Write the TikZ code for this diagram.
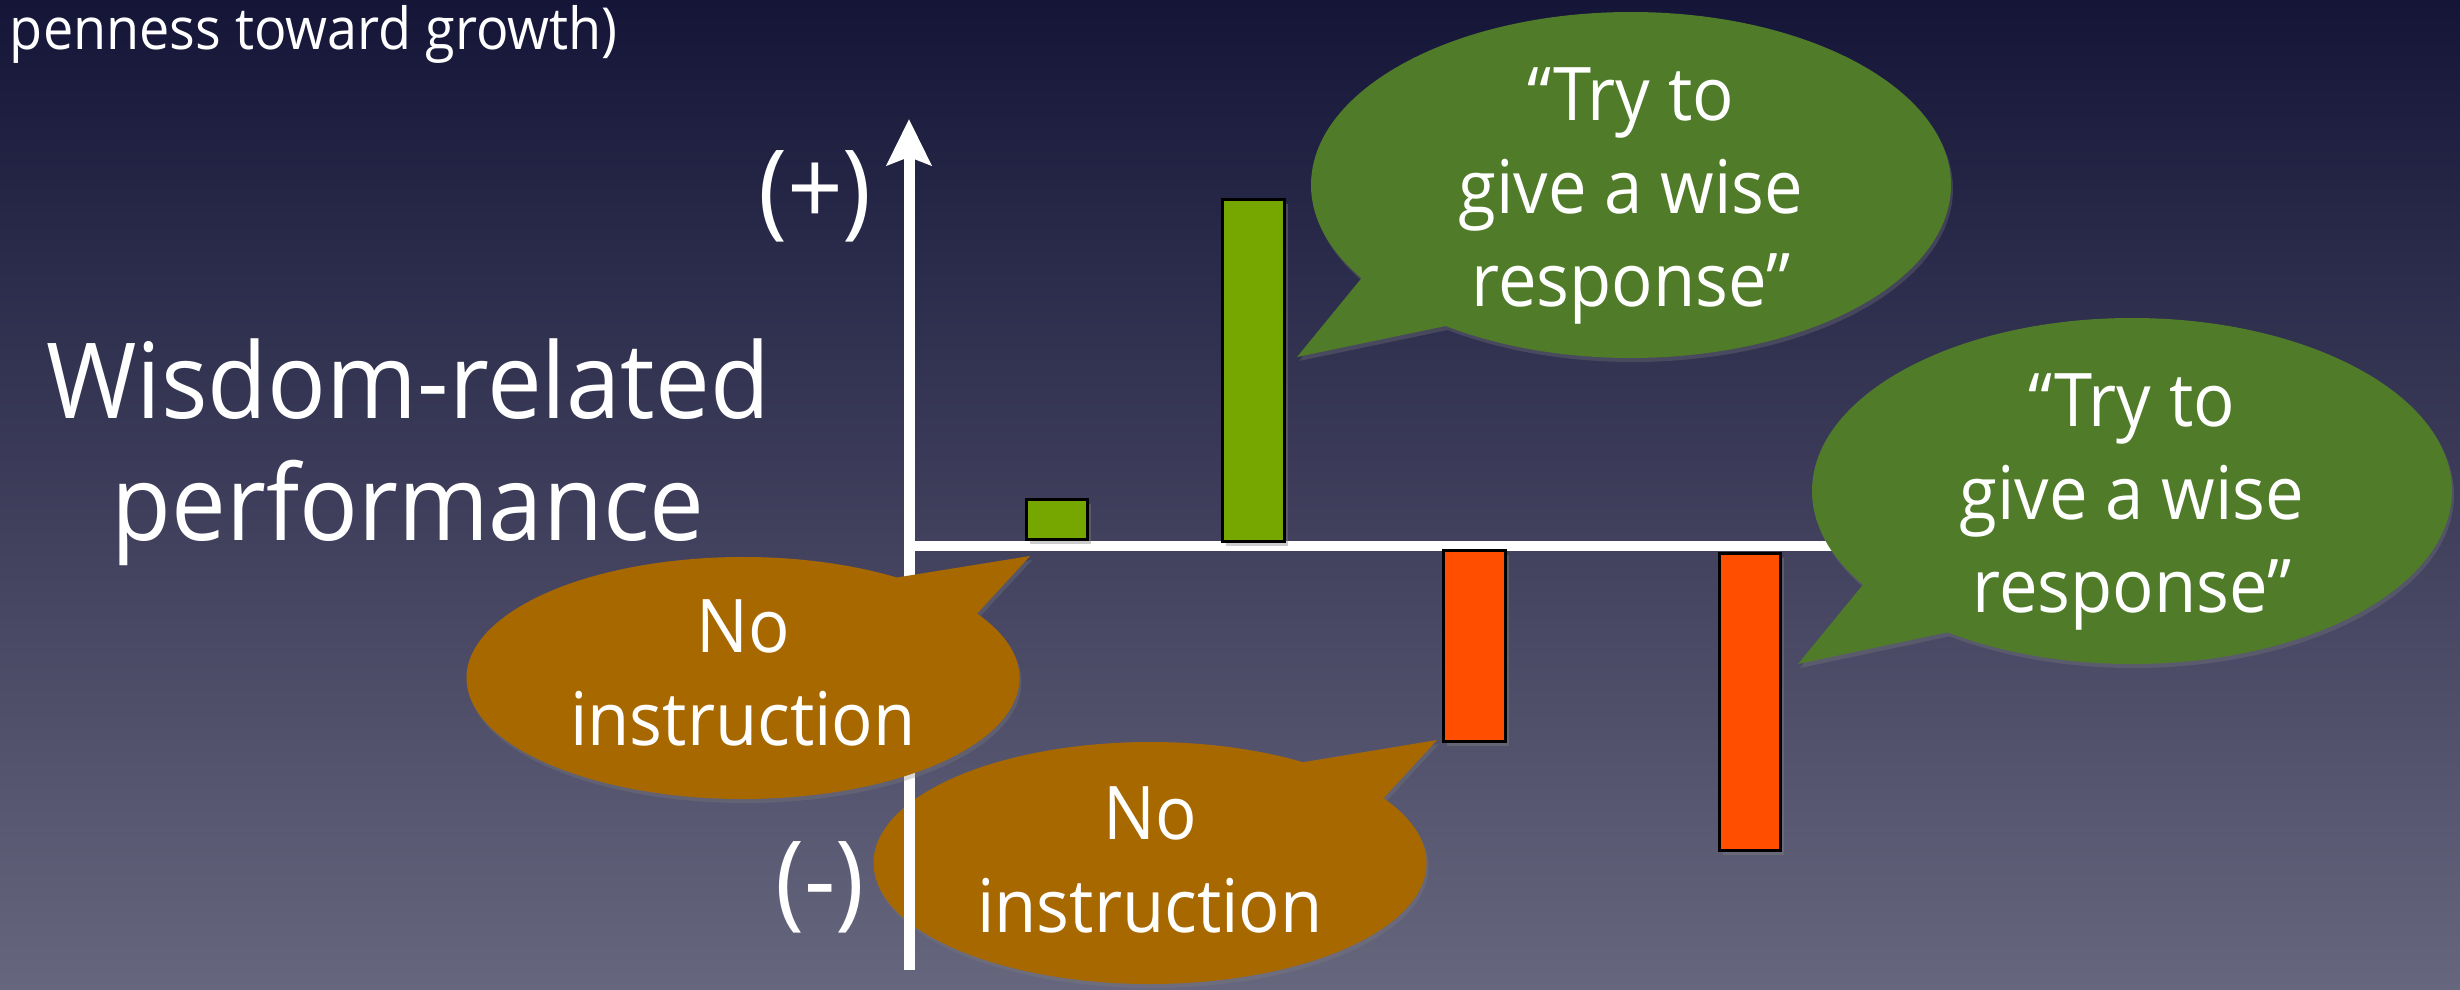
\documentclass[tikz,border=0pt]{standalone}
\usepackage{fontspec}
\setmainfont{Open Sans}[FakeStretch=0.93]
\usetikzlibrary{shapes.callouts,arrows.meta,shadows}
\definecolor{bgtop}{HTML}{151538}
\definecolor{bgbot}{HTML}{66667E}
\definecolor{bubgreen}{HTML}{507B29}
\definecolor{bubbrown}{HTML}{A86800}
\definecolor{bargreen}{HTML}{76A600}
\definecolor{barorange}{HTML}{FF4E00}
\begin{document}
\begin{tikzpicture}[x=1pt,y=-1pt,
  axisline/.style={white, line width=11pt},
  barbox/.style={draw=black, line width=3pt, minimum width=62, inner sep=0,
    drop shadow={shadow xshift=3pt, shadow yshift=-4pt, opacity=0.4}},
  gbubble/.style={ellipse callout, fill=bubgreen, minimum width=640, minimum height=346,
    inner sep=0, callout pointer arc=22,
    drop shadow={shadow xshift=2pt, shadow yshift=-4pt, opacity=0.3}},
  bbubble/.style={ellipse callout, fill=bubbrown, minimum width=553, minimum height=242,
    inner sep=0, callout pointer arc=24,
    drop shadow={shadow xshift=2pt, shadow yshift=-4pt, opacity=0.3}},
  bubtext/.style={text=white, align=center, inner sep=0, font=\fontsize{74}{93}\selectfont},
  bigtext/.style={text=white, align=center, inner sep=0, font=\fontsize{105}{122}\selectfont},
  toptext/.style={text=white, inner sep=0, font=\fontsize{58}{70}\selectfont}
]
\useasboundingbox (0,0) rectangle (2460,990);
\fill[top color=bgtop, bottom color=bgbot] (0,0) rectangle (2460,990);

% top text
\node[toptext, anchor=base east] (toptxt) at (618,49) {penness toward growth)};

% lower brown bubble (under the axis)
\coordinate (b2tip) at (1437,740);
\node[bbubble, callout absolute pointer={(b2tip)}] (b2) at (1150,863) {};
\node[bubtext] (b2t) at (1150,860) {No\\instruction};

% axes
\coordinate (ybot) at (909,970);
\coordinate (ytop) at (909,119);
\coordinate (xorg) at (909,546);
\coordinate (xend) at (1900,546);
\draw[axisline, line width=10pt] (xorg) -- (xend);
\draw[axisline, -{Stealth[length=46pt,width=44pt,inset=8pt]}] (ybot) -- (ytop);

% bars
\node[barbox, fill=bargreen, minimum width=61, minimum height=40] (bar1) at (1057,519.5) {};
\node[barbox, fill=bargreen, minimum height=342] (bar2) at (1253.5,370.5) {};
\node[barbox, fill=barorange, minimum height=191] (bar3) at (1474.5,646) {};
\node[barbox, fill=barorange, minimum width=61, minimum height=297] (bar4) at (1750,702) {};

% green bubbles
\coordinate (g1tip) at (1297,357);
\node[gbubble, callout absolute pointer={(g1tip)}] (g1) at (1631,185) {};
\node[bubtext] (g1t) at (1631,196) {“Try to\\give a wise\\response”};

\coordinate (g2tip) at (1798,664);
\node[gbubble, callout absolute pointer={(g2tip)}] (g2) at (2132,491) {};
\node[bubtext] (g2t) at (2132,502) {“Try to\\give a wise\\response”};

% upper brown bubble (over the axis)
\coordinate (b1tip) at (1030,556);
\node[bbubble, callout absolute pointer={(b1tip)}] (b1) at (743,678) {};
\node[bubtext] (b1t) at (743,673) {No\\instruction};

% axis labels
\node[bigtext] (ylab) at (408,452) {Wisdom-related\\performance};
\node[bigtext] (plus) at (815,196) {(+)};
\node[bigtext] (minus) at (820,887) {(-)};
\end{tikzpicture}
\end{document}
